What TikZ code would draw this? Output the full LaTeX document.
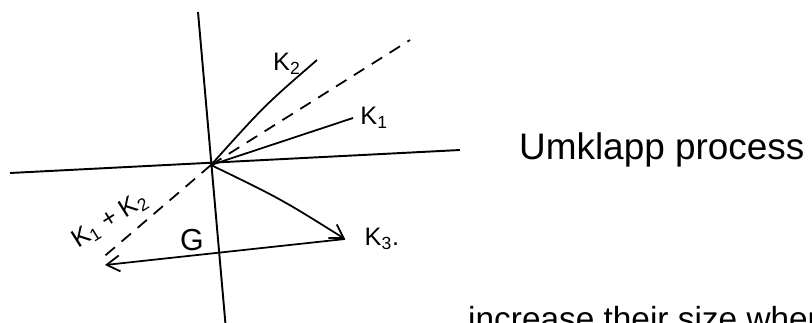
\documentclass[tikz,border=0pt]{standalone}
\usepackage{fontspec}
\setmainfont{Liberation Sans}
\usetikzlibrary{arrows.meta,positioning,calc}

\begin{document}
\begin{tikzpicture}[
  x=0.2mm, y=-0.2mm,
  axis/.style={line width=1.1pt},
  vec/.style={line width=1pt},
  arrow/.style={-{Straight Barb[length=2.6mm,width=3.2mm]}, line width=1pt},
  guide/.style={dashed, dash pattern=on 7pt off 5pt, line width=1pt},
  lbl/.style={font=\Large, inner sep=1pt}
]

\clip (0,0) rectangle (812,322);

\coordinate (o) at (211,165);
\coordinate (xl) at (10,173);
\coordinate (xr) at (460,150);
\coordinate (yt) at (198,12);
\coordinate (yb) at (226,330);
\coordinate (k1) at (353,118);
\coordinate (k2) at (317,60);
\coordinate (d) at (410,40);
\coordinate (k3) at (345,239);
\coordinate (g) at (105,265);
\coordinate (sum) at (100,260);

\draw[axis] (xl) -- (xr);
\draw[axis] (yt) -- (yb);

\draw[vec] (o) -- (k1);
\draw[vec] (o) .. controls (265,105) .. (k2);
\draw[guide] (o) -- (d);
\draw[guide] (o) -- (sum);
\draw[arrow] (o) .. controls (281,199) .. (k3);
\draw[arrow] (k3) -- (g);

\node[lbl, right=3pt of k1] (k1lbl) {K\textsubscript{1}};
\node[lbl] (k2lbl) at (287,64) {K\textsubscript{2}};
\node[lbl, right=10pt of k3] (k3lbl) {K\textsubscript{3}.};
\node[font=\LARGE] (glbl) at (192,240) {G};
\node[lbl, rotate=32, inner sep=2pt] (sumlbl) at (110,220) {K\textsubscript{1} + K\textsubscript{2}};

\node[font=\fontsize{21}{25}\selectfont, anchor=west] (title) at (513,150) {Umklapp process};
\node[font=\fontsize{19}{23}\selectfont, anchor=base west] (note) at (462,330) {increase their size when};

\end{tikzpicture}
\end{document}
